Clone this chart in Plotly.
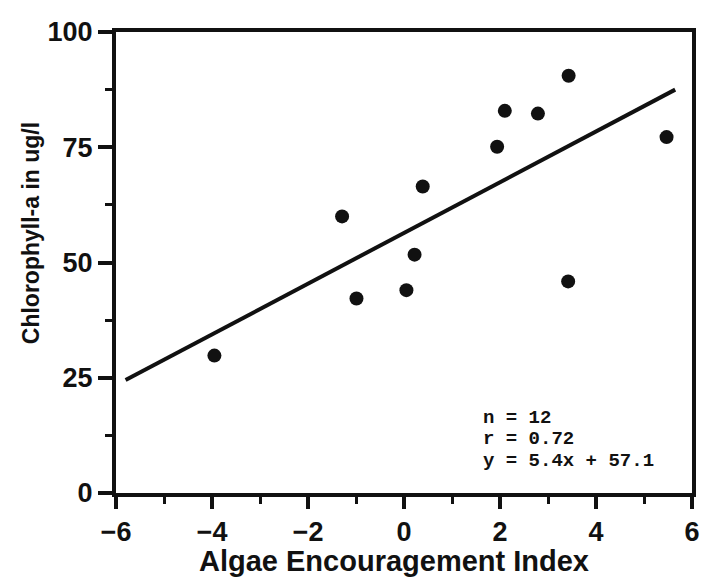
import plotly.graph_objects as go

# Data
aei = [-3.95, -1.29, -0.99, 0.05, 0.22, 0.39, 1.94, 2.10, 2.79, 3.43, 3.42, 5.47]
chl = [29.8, 60.0, 42.2, 44.0, 51.7, 66.5, 75.1, 82.9, 82.3, 90.5, 45.9, 77.2]

fit_x = [-5.8, 5.65]
fit_y = [24.5, 87.5]

x_ticks = [-6, -4, -2, 0, 2, 4, 6]
y_ticks = [0, 25, 50, 75, 100]
stats_lines = ["n = 12", "r = 0.72", "y = 5.4x + 57.1"]

ink = "#111111"
W, H = 709, 581
ml, mr, mt, mb = 116, 9, 32, 88

fig = go.Figure()
fig.add_trace(go.Scatter(x=fit_x, y=fit_y, mode="lines",
                         line=dict(color=ink, width=4), showlegend=False,
                         hoverinfo="skip"))
fig.add_trace(go.Scatter(x=aei, y=chl, mode="markers",
                         marker=dict(color=ink, size=14, line=dict(width=0)),
                         showlegend=False))

tickfont = dict(family="Liberation Sans, Arial, sans-serif", size=27,
                color=ink, weight="bold")

fig.update_xaxes(range=[-6, 6], tickvals=x_ticks,
                 ticktext=[("\u2212" + str(-v)) if v < 0 else str(v) for v in x_ticks],
                 ticks="outside", ticklen=12, tickwidth=4, tickcolor=ink,
                 minor=dict(dtick=1, ticks="outside", ticklen=7, tickwidth=3,
                            tickcolor=ink, showgrid=False),
                 showline=True, linewidth=4, linecolor=ink, mirror=True,
                 showgrid=False, zeroline=False, tickfont=tickfont)
fig.update_yaxes(range=[0, 100], tickvals=y_ticks,
                 ticks="outside", ticklen=14, tickwidth=4, tickcolor=ink,
                 minor=dict(dtick=12.5, ticks="outside", ticklen=7, tickwidth=3,
                            tickcolor=ink, showgrid=False),
                 showline=True, linewidth=4, linecolor=ink, mirror=True,
                 showgrid=False, zeroline=False, tickfont=tickfont)

pw = W - ml - mr
ph = H - mt - mb

def px(xp):
    return (xp - ml) / pw

def py(yp):
    return (H - mb - yp) / ph

titlefont = dict(family="Liberation Sans, Arial, sans-serif", size=29,
                 color=ink, weight="bold")
fig.add_annotation(text="Algae Encouragement Index", xref="paper", yref="paper",
                   x=px(398), y=py(561), showarrow=False, font=titlefont,
                   xanchor="center", yanchor="middle")
fig.add_annotation(text="Chlorophyll-a in ug/l", xref="paper", yref="paper",
                   x=px(30), y=py(233), showarrow=False, textangle=-90,
                   font=dict(family="Liberation Sans, Arial, sans-serif", size=23,
                             color=ink, weight="bold"),
                   xanchor="center", yanchor="middle")

monofont = dict(family="Liberation Mono, Courier New, monospace", size=19,
                color=ink, weight="bold")
for line, yp in zip(stats_lines, [418, 439, 461]):
    fig.add_annotation(text=line, xref="paper", yref="paper", x=px(486), y=py(yp),
                       showarrow=False, font=monofont, xanchor="left",
                       yanchor="middle")

fig.update_layout(width=W, height=H, margin=dict(l=ml, r=mr, t=mt, b=mb),
                  plot_bgcolor="white", paper_bgcolor="white")

fig.write_html("out.html")
